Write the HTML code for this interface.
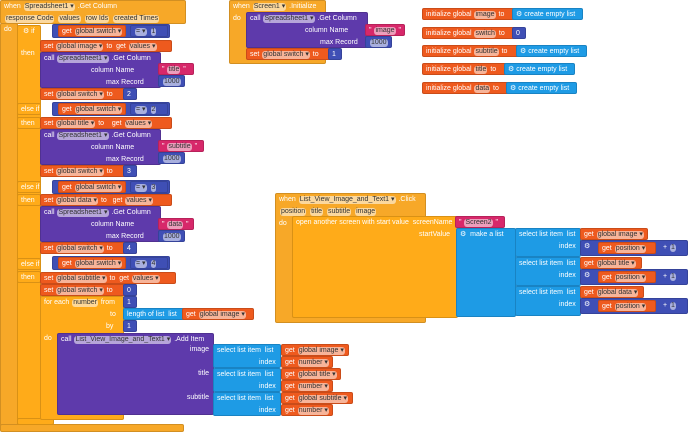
<!DOCTYPE html>
<html><head><meta charset="utf-8"><style>
body{margin:0;width:690px;height:432px;background:#fff;position:relative;overflow:hidden;font-family:"Liberation Sans",sans-serif}
.b{position:absolute;height:12px;font-size:7px;color:#fff;line-height:12px;padding-left:3px;box-sizing:border-box;border-radius:2px;white-space:nowrap;border:1px solid rgba(0,0,0,.15)}
.ev{background:#F7A828}.ct{background:#FFAB19}.vr{background:#EE5A1E}.pu{background:#5E3AAB}.mt{background:#3F4FB5}.ls{background:#1E9BE5}.tx{background:#D7286A}
.f{display:inline-block;background:rgba(255,255,255,.55);color:#333;border-radius:3px;padding:0 1px;line-height:8px;margin:0 1px}
</style></head><body>
<!-- main event -->
<div class="b ev" style="left:0;top:0;width:186px;height:24px">when <span class="f">Spreadsheet1 ▾</span> .Get Column<br><span class="f">response Code</span> <span class="f">values</span> <span class="f">row Ids</span> <span class="f">created Times</span></div>
<div class="b ev" style="left:0;top:23px;width:18px;height:404px">do</div>
<div class="b ev" style="left:0;top:424px;width:184px;height:8px"></div>
<div class="b ct" style="left:17px;top:25px;width:24px;height:396px;line-height:11px">&nbsp;⚙ if<br><br>then<br></div>
<div class="b ct" style="left:17px;top:418px;width:37px;height:7px"></div>
<div class="b ct" style="left:17px;top:103px;width:24px;height:12px">else if</div>
<div class="b ct" style="left:17px;top:117px;width:24px;height:12px">then</div>
<div class="b ct" style="left:17px;top:181px;width:24px;height:12px">else if</div>
<div class="b ct" style="left:17px;top:194px;width:24px;height:12px">then</div>
<div class="b ct" style="left:17px;top:258px;width:24px;height:12px">else if</div>
<div class="b ct" style="left:17px;top:271px;width:24px;height:12px">then</div>

<!-- conditions -->
<div class="b mt" style="left:52px;top:24px;width:118px;height:14px"></div>
<div class="b vr" style="left:58px;top:25px;width:68px">get <span class="f">global switch ▾</span></div>
<div class="b mt" style="left:130px;top:25px;width:38px"><span class="f">= ▾</span> <span class="f">1</span></div>
<div class="b mt" style="left:52px;top:102px;width:118px;height:14px"></div>
<div class="b vr" style="left:58px;top:103px;width:68px">get <span class="f">global switch ▾</span></div>
<div class="b mt" style="left:130px;top:103px;width:38px"><span class="f">= ▾</span> <span class="f">2</span></div>
<div class="b mt" style="left:52px;top:180px;width:118px;height:14px"></div>
<div class="b vr" style="left:58px;top:181px;width:68px">get <span class="f">global switch ▾</span></div>
<div class="b mt" style="left:130px;top:181px;width:38px"><span class="f">= ▾</span> <span class="f">3</span></div>
<div class="b mt" style="left:52px;top:256px;width:118px;height:14px"></div>
<div class="b vr" style="left:58px;top:257px;width:68px">get <span class="f">global switch ▾</span></div>
<div class="b mt" style="left:130px;top:257px;width:38px"><span class="f">= ▾</span> <span class="f">4</span></div>

<!-- branch 1 -->
<div class="b vr" style="left:40px;top:40px;width:132px">set <span class="f">global image ▾</span> to &nbsp;get <span class="f">values ▾</span></div>
<div class="b pu" style="left:40px;top:52px;width:121px;height:36px">call <span class="f">Spreadsheet1 ▾</span> .Get Column<br><span style="padding-left:47px">column Name</span><br><span style="padding-left:62px">max Record</span></div>
<div class="b tx" style="left:158px;top:63px;width:36px">" <span class="f">title</span> "</div>
<div class="b mt" style="left:158px;top:75px;width:27px"><span class="f">1000</span></div>
<div class="b vr" style="left:40px;top:88px;width:97px">set <span class="f">global switch ▾</span> to</div>
<div class="b mt" style="left:123px;top:88px;width:14px">2</div>
<!-- branch 2 -->
<div class="b vr" style="left:40px;top:117px;width:132px">set <span class="f">global title ▾</span> to &nbsp;&nbsp;&nbsp;get <span class="f">values ▾</span></div>
<div class="b pu" style="left:40px;top:129px;width:121px;height:36px">call <span class="f">Spreadsheet1 ▾</span> .Get Column<br><span style="padding-left:47px">column Name</span><br><span style="padding-left:62px">max Record</span></div>
<div class="b tx" style="left:158px;top:140px;width:46px">" <span class="f">subtitle</span> "</div>
<div class="b mt" style="left:158px;top:152px;width:27px"><span class="f">1000</span></div>
<div class="b vr" style="left:40px;top:165px;width:97px">set <span class="f">global switch ▾</span> to</div>
<div class="b mt" style="left:123px;top:165px;width:14px">3</div>
<!-- branch 3 -->
<div class="b vr" style="left:40px;top:194px;width:132px">set <span class="f">global data ▾</span> to &nbsp;&nbsp;get <span class="f">values ▾</span></div>
<div class="b pu" style="left:40px;top:206px;width:121px;height:36px">call <span class="f">Spreadsheet1 ▾</span> .Get Column<br><span style="padding-left:47px">column Name</span><br><span style="padding-left:62px">max Record</span></div>
<div class="b tx" style="left:158px;top:218px;width:36px">" <span class="f">data</span> "</div>
<div class="b mt" style="left:158px;top:230px;width:27px"><span class="f">1000</span></div>
<div class="b vr" style="left:40px;top:242px;width:97px">set <span class="f">global switch ▾</span> to</div>
<div class="b mt" style="left:123px;top:242px;width:14px">4</div>
<!-- branch 4 -->
<div class="b vr" style="left:40px;top:272px;width:136px">set <span class="f">global subtitle ▾</span> to &nbsp;get <span class="f">values ▾</span></div>
<div class="b vr" style="left:40px;top:284px;width:97px">set <span class="f">global switch ▾</span> to</div>
<div class="b mt" style="left:123px;top:284px;width:14px">0</div>
<div class="b ct" style="left:40px;top:296px;width:84px;height:124px;line-height:12px">for each <span class="f">number</span> from<br><span style="padding-left:66px">to</span><br><span style="padding-left:62px">by</span><br>do</div>
<div class="b mt" style="left:123px;top:296px;width:14px">1</div>
<div class="b ls" style="left:123px;top:308px;width:130px">length of list &nbsp;list</div>
<div class="b vr" style="left:182px;top:308px;width:72px">get <span class="f">global image ▾</span></div>
<div class="b mt" style="left:123px;top:320px;width:14px">1</div>
<div class="b pu" style="left:57px;top:333px;width:157px;height:82px">call <span class="f">List_View_Image_and_Text1 ▾</span> .Add Item</div>
<div class="b pu" style="left:175px;top:344px;width:38px;border:0;text-align:right;padding-right:4px">image</div>
<div class="b pu" style="left:175px;top:368px;width:38px;border:0;text-align:right;padding-right:4px">title</div>
<div class="b pu" style="left:175px;top:392px;width:38px;border:0;text-align:right;padding-right:4px">subtitle</div>
<div class="b ls" style="left:213px;top:344px;width:68px;height:24px">select list item &nbsp;list<br><span style="padding-left:42px">index</span></div>
<div class="b ls" style="left:213px;top:368px;width:68px;height:24px">select list item &nbsp;list<br><span style="padding-left:42px">index</span></div>
<div class="b ls" style="left:213px;top:392px;width:68px;height:24px">select list item &nbsp;list<br><span style="padding-left:42px">index</span></div>
<div class="b vr" style="left:281px;top:344px;width:68px">get <span class="f">global image ▾</span></div>
<div class="b vr" style="left:281px;top:356px;width:52px">get <span class="f">number ▾</span></div>
<div class="b vr" style="left:281px;top:368px;width:60px">get <span class="f">global title ▾</span></div>
<div class="b vr" style="left:281px;top:380px;width:52px">get <span class="f">number ▾</span></div>
<div class="b vr" style="left:281px;top:392px;width:72px">get <span class="f">global subtitle ▾</span></div>
<div class="b vr" style="left:281px;top:404px;width:52px">get <span class="f">number ▾</span></div>

<!-- Screen1 initialize -->
<div class="b ev" style="left:229px;top:0;width:97px;height:64px">when <span class="f">Screen1 ▾</span> .Initialize<br>do</div>
<div class="b pu" style="left:246px;top:12px;width:122px;height:36px">call <span class="f">Spreadsheet1 ▾</span> .Get Column<br><span style="padding-left:55px">column Name</span><br><span style="padding-left:70px">max Record</span></div>
<div class="b tx" style="left:365px;top:24px;width:40px">" <span class="f">image</span> "</div>
<div class="b mt" style="left:365px;top:36px;width:27px"><span class="f">1000</span></div>
<div class="b vr" style="left:246px;top:48px;width:94px">set <span class="f">global switch ▾</span> to</div>
<div class="b mt" style="left:328px;top:48px;width:14px">1</div>

<!-- globals -->
<div class="b vr" style="left:422px;top:8px;width:94px">initialize global <span class="f">image</span> to</div>
<div class="b ls" style="left:512px;top:8px;width:71px">⚙ create empty list</div>
<div class="b vr" style="left:422px;top:27px;width:94px">initialize global <span class="f">switch</span> to</div>
<div class="b mt" style="left:512px;top:27px;width:14px">0</div>
<div class="b vr" style="left:422px;top:45px;width:98px">initialize global <span class="f">subtitle</span> to</div>
<div class="b ls" style="left:516px;top:45px;width:71px">⚙ create empty list</div>
<div class="b vr" style="left:422px;top:63px;width:88px">initialize global <span class="f">title</span> to</div>
<div class="b ls" style="left:504px;top:63px;width:71px">⚙ create empty list</div>
<div class="b vr" style="left:422px;top:82px;width:90px">initialize global <span class="f">data</span> to</div>
<div class="b ls" style="left:506px;top:82px;width:71px">⚙ create empty list</div>

<!-- List view click -->
<div class="b ev" style="left:275px;top:193px;width:151px;height:130px">when <span class="f">List_View_Image_and_Text1 ▾</span> .Click<br><span class="f">position</span> <span class="f">title</span> <span class="f">subtitle</span> <span class="f">image</span><br>do</div>
<div class="b ct" style="left:292px;top:216px;width:166px;height:102px">open another screen with start value &nbsp;screenName<br><span style="padding-left:123px">startValue</span></div>
<div class="b tx" style="left:455px;top:216px;width:50px">" <span class="f">Screen2</span> "</div>
<div class="b ls" style="left:456px;top:228px;width:60px;height:89px">⚙ &nbsp;make a list</div>
<div class="b ls" style="left:515px;top:228px;width:66px;height:29px">select list item &nbsp;list<br><span style="padding-left:40px">index</span></div>
<div class="b ls" style="left:515px;top:257px;width:66px;height:29px">select list item &nbsp;list<br><span style="padding-left:40px">index</span></div>
<div class="b ls" style="left:515px;top:286px;width:66px;height:30px">select list item &nbsp;list<br><span style="padding-left:40px">index</span></div>
<div class="b vr" style="left:580px;top:228px;width:68px">get <span class="f">global image ▾</span></div>
<div class="b vr" style="left:580px;top:257px;width:62px">get <span class="f">global title ▾</span></div>
<div class="b vr" style="left:580px;top:286px;width:64px">get <span class="f">global data ▾</span></div>
<div class="b mt" style="left:580px;top:240px;width:108px;height:16px">⚙</div>
<div class="b vr" style="left:598px;top:242px;width:58px">get <span class="f">position ▾</span></div>
<div class="b mt" style="left:660px;top:242px;width:26px;border:0">+ <span class="f">1</span></div>
<div class="b mt" style="left:580px;top:269px;width:108px;height:16px">⚙</div>
<div class="b vr" style="left:598px;top:271px;width:58px">get <span class="f">position ▾</span></div>
<div class="b mt" style="left:660px;top:271px;width:26px;border:0">+ <span class="f">1</span></div>
<div class="b mt" style="left:580px;top:298px;width:108px;height:16px">⚙</div>
<div class="b vr" style="left:598px;top:300px;width:58px">get <span class="f">position ▾</span></div>
<div class="b mt" style="left:660px;top:300px;width:26px;border:0">+ <span class="f">1</span></div>
</body></html>
